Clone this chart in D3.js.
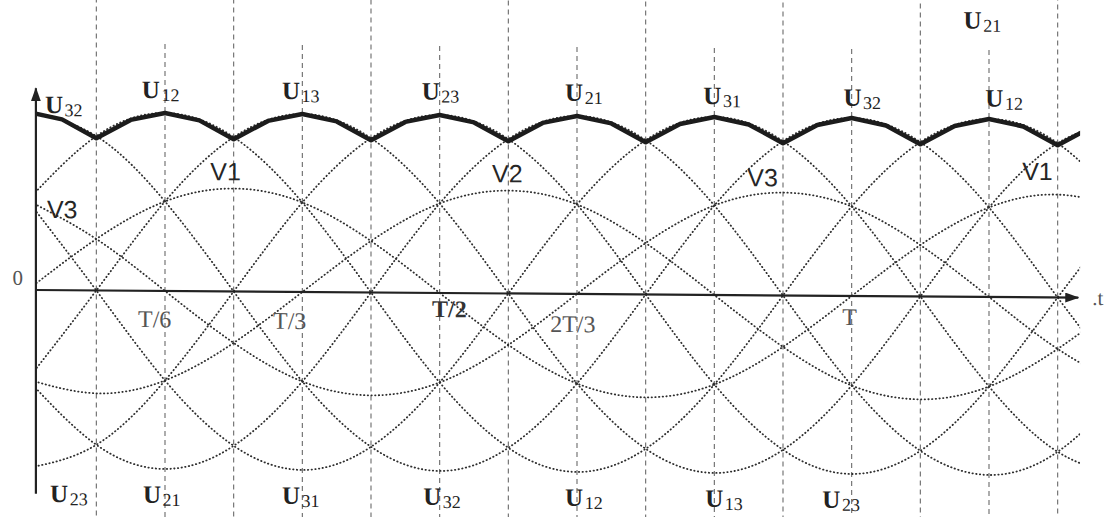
<!DOCTYPE html>
<html><head><meta charset="utf-8">
<script src="https://cdn.jsdelivr.net/npm/d3@7"></script>
<style>html,body{margin:0;padding:0;background:#fff;} svg{display:block;}</style>
</head><body>
<svg id="chart" width="1112" height="517"></svg>
<script>
// ---- data (phase peak = 100, line peak = 173) ----
const angles = [0,30,60,90,120,150,180,210,240,270,300,330,360,390,420,450,480];
const U12 = [87,150,173,150,87,0,-87,-150,-173,-150,-87,0,87,150,173,150,87];
const U13 = [-87,0,87,150,173,150,87,0,-87,-150,-173,-150,-87,0,87,150,173];
const U23 = [-173,-150,-87,0,87,150,173,150,87,0,-87,-150,-173,-150,-87,0,87];
const U21 = [-87,-150,-173,-150,-87,0,87,150,173,150,87,0,-87,-150,-173,-150,-87];
const U31 = [87,0,-87,-150,-173,-150,-87,0,87,150,173,150,87,0,-87,-150,-173];
const U32 = [173,150,87,0,-87,-150,-173,-150,-87,0,87,150,173,150,87,0,-87];
const V1 = [0,50,87,100,87,50,0,-50,-87,-100,-87,-50,0,50,87,100,87];
const V2 = [-87,-100,-87,-50,0,50,87,100,87,50,0,-50,-87,-100,-87,-50,0];
const V3 = [87,50,0,-50,-87,-100,-87,-50,0,50,87,100,87,50,0,-50,-87];

const envelopeAngles = [0,15,30,45,60,75,90,105,120,135,150,165,180,195,210,225,240,255,270,285,300,315,330,345,360,375,390,405,420,435,450,465];
const envelope = [173,166,148,166,173,166,148,166,173,166,148,166,173,166,148,166,173,166,148,166,173,166,148,166,173,166,148,166,173,166,148,166];

const commutationAngles = [30,90,150,210,270,330,390,450];
const peakAngles = [60,120,180,240,300,360,420];
const tStart = 3.6, tEnd = 459;

const topLabelSubs = ["32","12","13","23","21","31","32","12","21"];
const topLabelT = [7.6,49.9,111.1,172.2,234.8,295.2,356.4,418.4,408.9];
const topLabelV = [172,187.4,187.4,188,187.6,185.6,184.7,185,260.7];
const bottomLabelSubs = ["23","21","31","32","12","13","23"];
const bottomLabelT = [9.8,50.4,111.1,172.8,234.8,296.0,347.2];
const bottomLabelV = -206;
const phaseLabels = ["V3","V1","V2","V3","V1"];
const phaseLabelT = [8.4,79.8,202.9,314.4,434.5];
const phaseLabelV = [70,108,108,106,114];
const timeLabels = ["0","T/6","T/3","T/2","2T/3","T",".t"];
const timeLabelT = [-2,48.2,107.2,176.7,228.3,355.9,465.1];
const timeLabelV = [4.9,-35.3,-36.1,-23.4,-37.1,-28.3,-7.1];

// ---- scales ----
const W = 1112, H = 517;
const x = d3.scaleLinear().domain([60,420]).range([165,989]);
const y = d3.scaleLinear().domain([0,173]).range([290,112]);

const svg = d3.select("#chart");
const defs = svg.append("defs");
defs.append("clipPath").attr("id","plotClip").append("rect")
  .attr("x", x(tStart)).attr("y", -50).attr("width", x(tEnd + 0.8) - x(tStart)).attr("height", H + 100);
defs.append("marker").attr("id","arrow").attr("viewBox","0 0 14 10").attr("refX",13).attr("refY",5)
  .attr("markerWidth",14).attr("markerHeight",10).attr("markerUnits","userSpaceOnUse").attr("orient","auto")
  .append("path").attr("d","M0,0L14,5L0,10Z").attr("fill","#222");

const ox = x(tStart), oy = y(0);
const g = svg.append("g").attr("transform", `translate(${ox},${oy}) skewY(0.42) translate(${-ox},${-oy})`);

// dashed vertical guides
g.append("g").selectAll("line").data(commutationAngles).join("line")
  .attr("x1", d => x(d)).attr("x2", d => x(d)).attr("y1", -30).attr("y2", H + 20)
  .attr("stroke","#6a6a6a").attr("stroke-width",1.1).attr("stroke-dasharray","5,4");
g.append("g").selectAll("line").data(peakAngles).join("line")
  .attr("x1", d => x(d)).attr("x2", d => x(d)).attr("y1", y(240)).attr("y2", H + 20)
  .attr("stroke","#6a6a6a").attr("stroke-width",1.1).attr("stroke-dasharray","5,4");

// dotted sinusoids
const curves = [U12,U13,U23,U21,U31,U32,V1,V2,V3];
const lineGen = d3.line().x((d,i) => x(angles[i])).y(d => y(d)).curve(d3.curveNatural);
const cg = g.append("g").attr("clip-path","url(#plotClip)");
cg.selectAll("path.wave").data(curves).join("path").attr("class","wave")
  .attr("d", lineGen).attr("fill","none").attr("stroke","#2e2e2e")
  .attr("stroke-width",1.8).attr("stroke-linecap","round").attr("stroke-dasharray","0.4,3.3");

// axes
g.append("line").attr("x1", x(tStart)).attr("x2", x(tEnd)).attr("y1", y(0)).attr("y2", y(0))
  .attr("stroke","#222").attr("stroke-width",2.2).attr("marker-end","url(#arrow)");
g.append("line").attr("x1", x(tStart)).attr("x2", x(tStart)).attr("y1", y(-198)).attr("y2", y(196))
  .attr("stroke","#222").attr("stroke-width",2.2).attr("marker-end","url(#arrow)");

// rectified envelope
const envGen = d3.line().x((d,i) => x(envelopeAngles[i])).y(d => y(d)).curve(d3.curveLinear);
cg.append("path").datum(envelope).attr("d", envGen).attr("fill","none")
  .attr("stroke","#1c1c1c").attr("stroke-width",4.5).attr("stroke-linejoin","round");

// labels
function uLabel(sel, sub, t, v) {
  const tx = sel.append("text").attr("x", x(t)).attr("y", y(v))
    .attr("font-family","'Liberation Serif', 'Times New Roman', serif").attr("fill","#222");
  tx.append("tspan").text("U").attr("font-size",25).attr("font-weight","bold");
  tx.append("tspan").text(sub).attr("font-size",18).attr("dy",3).attr("dx",1.5);
}
const lg = g.append("g");
topLabelSubs.forEach((s,i) => uLabel(lg, s, topLabelT[i], topLabelV[i]));
bottomLabelSubs.forEach((s,i) => uLabel(lg, s, bottomLabelT[i], bottomLabelV));

lg.selectAll("text.phase").data(phaseLabels).join("text").attr("class","phase")
  .attr("x", (d,i) => x(phaseLabelT[i])).attr("y", (d,i) => y(phaseLabelV[i]))
  .attr("font-family","'Liberation Sans', Arial, sans-serif").attr("font-size",25)
  .attr("fill","#262626").text(d => d);

lg.selectAll("text.time").data(timeLabels).join("text").attr("class","time")
  .attr("x", (d,i) => x(timeLabelT[i])).attr("y", (d,i) => y(timeLabelV[i]))
  .attr("text-anchor", (d,i) => i === 0 ? "end" : "start")
  .attr("font-family","'Liberation Serif', 'Times New Roman', serif")
  .attr("font-size", (d,i) => i === 0 || i === 6 ? 21 : 24)
  .attr("font-weight", d => d === "T/2" ? "bold" : "normal")
  .attr("fill", d => d === "T/2" ? "#333" : "#555").text(d => d);
</script>
</body></html>
